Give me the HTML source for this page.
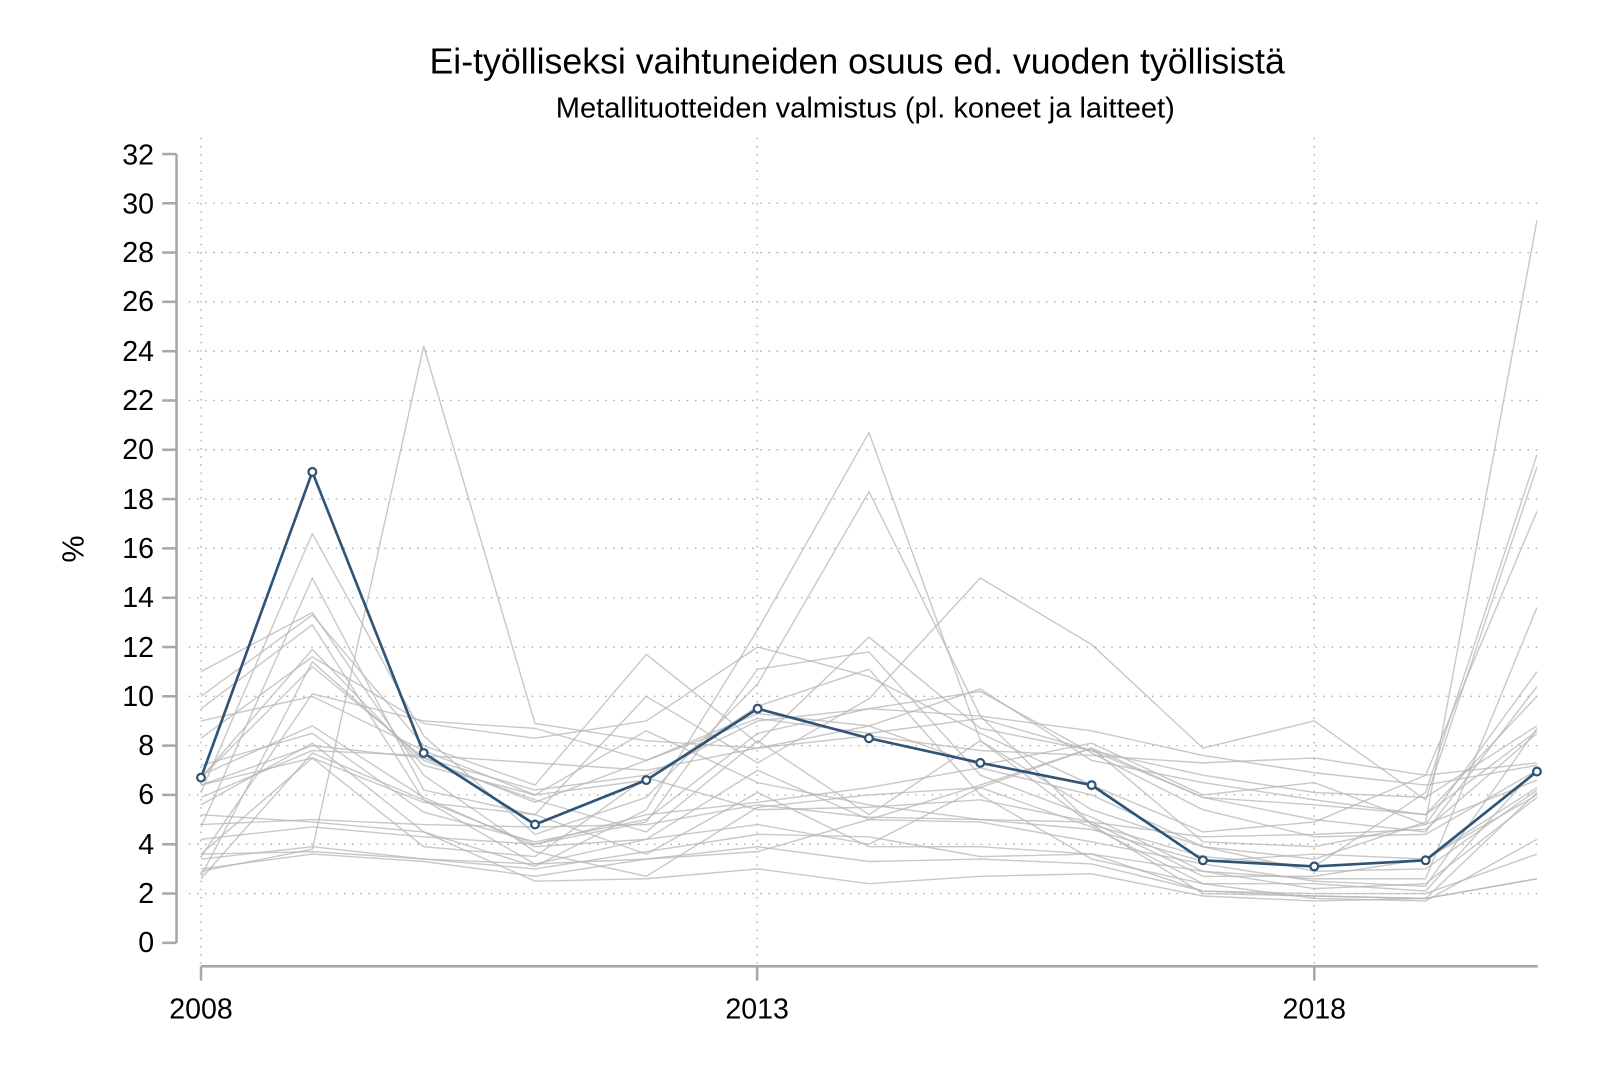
<!DOCTYPE html>
<html><head><meta charset="utf-8"><style>
html,body{margin:0;padding:0;background:#fff;}
svg{display:block;font-family:"Liberation Sans",Arial,sans-serif;}
</style></head><body>
<svg width="1600" height="1067" viewBox="0 0 1600 1067" xmlns="http://www.w3.org/2000/svg">
<rect width="1600" height="1067" fill="#fff"/>
<g transform="scale(1.0204)">
<text x="840" y="72" text-anchor="middle" font-size="35" fill="#000">Ei-työlliseksi vaihtuneiden osuus ed. vuoden työllisistä</text>
<text x="848" y="115" text-anchor="middle" font-size="28.5" fill="#000">Metallituotteiden valmistus (pl. koneet ja laitteet)</text>
<text transform="translate(82,538) rotate(-90)" text-anchor="middle" font-size="30" fill="#000">%</text>
<g stroke="#aaa" stroke-width="1.3" stroke-dasharray="1.5,6.5" fill="none">
<line x1="185" y1="199.2" x2="1510" y2="199.2"/><line x1="185" y1="247.5" x2="1510" y2="247.5"/>
<line x1="185" y1="295.8" x2="1510" y2="295.8"/><line x1="185" y1="344.2" x2="1510" y2="344.2"/>
<line x1="185" y1="392.5" x2="1510" y2="392.5"/><line x1="185" y1="440.8" x2="1510" y2="440.8"/>
<line x1="185" y1="489.1" x2="1510" y2="489.1"/><line x1="185" y1="537.4" x2="1510" y2="537.4"/>
<line x1="185" y1="585.8" x2="1510" y2="585.8"/><line x1="185" y1="634.1" x2="1510" y2="634.1"/>
<line x1="185" y1="682.4" x2="1510" y2="682.4"/><line x1="185" y1="730.7" x2="1510" y2="730.7"/>
<line x1="185" y1="779" x2="1510" y2="779"/><line x1="185" y1="827.4" x2="1510" y2="827.4"/>
<line x1="185" y1="875.7" x2="1510" y2="875.7"/>
<line x1="197" y1="135" x2="197" y2="947"/><line x1="742" y1="135" x2="742" y2="947"/><line x1="1288" y1="135" x2="1288" y2="947"/>
</g>
<g stroke="#a8a8a8" stroke-width="2.5" fill="none">
<line x1="173" y1="151" x2="173" y2="924"/>
<line x1="197" y1="947" x2="1507" y2="947"/>
</g>
<g stroke="#a8a8a8" stroke-width="2.5">
<line x1="159" y1="151" x2="173" y2="151"/><line x1="159" y1="199.2" x2="173" y2="199.2"/><line x1="159" y1="247.5" x2="173" y2="247.5"/><line x1="159" y1="295.8" x2="173" y2="295.8"/><line x1="159" y1="344.2" x2="173" y2="344.2"/><line x1="159" y1="392.5" x2="173" y2="392.5"/><line x1="159" y1="440.8" x2="173" y2="440.8"/><line x1="159" y1="489.1" x2="173" y2="489.1"/><line x1="159" y1="537.4" x2="173" y2="537.4"/><line x1="159" y1="585.8" x2="173" y2="585.8"/><line x1="159" y1="634.1" x2="173" y2="634.1"/><line x1="159" y1="682.4" x2="173" y2="682.4"/><line x1="159" y1="730.7" x2="173" y2="730.7"/><line x1="159" y1="779" x2="173" y2="779"/><line x1="159" y1="827.4" x2="173" y2="827.4"/><line x1="159" y1="875.7" x2="173" y2="875.7"/><line x1="159" y1="924" x2="173" y2="924"/>
<line x1="197" y1="947" x2="197" y2="961"/><line x1="742" y1="947" x2="742" y2="961"/><line x1="1288" y1="947" x2="1288" y2="961"/>
</g>
<g font-size="28" fill="#000" text-anchor="end">
<text x="151" y="161">32</text><text x="151" y="209">30</text><text x="151" y="257">28</text><text x="151" y="305">26</text><text x="151" y="354">24</text><text x="151" y="402">22</text><text x="151" y="450">20</text><text x="151" y="499">18</text><text x="151" y="547">16</text><text x="151" y="595">14</text><text x="151" y="692">10</text><text x="151" y="644">12</text><text x="151" y="740">8</text><text x="151" y="788">6</text><text x="151" y="837">4</text><text x="151" y="885">2</text><text x="151" y="933">0</text>
</g>
<g font-size="28" fill="#000" text-anchor="middle">
<text x="197" y="998">2008</text><text x="742" y="998">2013</text><text x="1288" y="998">2018</text>
</g>
<g transform="translate(197,924) scale(109.1,-24.16)" fill="none" stroke="#b5b5b5" stroke-opacity="0.75" stroke-width="1.4" stroke-linejoin="round">
<polyline vector-effect="non-scaling-stroke" points="0,3.6 1,3.7 2,3.4 3,3.2 4,3.4 5,3.9 6,3.3 7,3.4 8,3.2 9,2.1 10,1.9 11,1.8 12,2.6"/>
<polyline vector-effect="non-scaling-stroke" points="0,6.7 1,11.2 2,7.5 3,6.2 4,6.8 5,9.0 6,9.5 7,9.2 8,8.6 9,7.6 10,6.9 11,6.4 12,7.2"/>
<polyline vector-effect="non-scaling-stroke" points="0,10.0 1,13.3 2,8.0 3,6.4 4,11.7 5,8.1 6,12.4 7,8.7 8,7.8 9,5.9 10,5.6 11,5.2 12,8.6"/>
<polyline vector-effect="non-scaling-stroke" points="0,2.9 1,3.8 2,24.2 3,8.9 4,8.2 5,7.9 6,8.8 7,10.3 8,7.4 9,6.5 10,5.8 11,5.2 12,10.0"/>
<polyline vector-effect="non-scaling-stroke" points="0,5.6 1,8.1 2,4.5 3,3.1 4,5.4 5,12.7 6,20.7 7,8.2 8,5.4 9,3.9 10,3.4 11,4.9 12,29.3"/>
<polyline vector-effect="non-scaling-stroke" points="0,6.1 1,16.6 2,8.4 3,4.4 4,5.9 5,10.5 6,18.3 7,9.2 8,4.8 9,3.5 10,3.1 11,6.1 12,19.8"/>
<polyline vector-effect="non-scaling-stroke" points="0,4.7 1,14.8 2,6.2 3,5.2 4,10.0 5,7.3 6,9.9 7,14.8 8,12.1 9,7.9 10,9.0 11,5.8 12,19.3"/>
<polyline vector-effect="non-scaling-stroke" points="0,8.3 1,11.6 2,8.9 3,8.3 4,9.0 5,12.0 6,10.8 7,8.5 8,6.4 9,4.5 10,4.9 11,6.8 12,17.5"/>
<polyline vector-effect="non-scaling-stroke" points="0,9.5 1,12.9 2,5.8 3,4.0 4,4.9 5,11.1 6,11.8 7,6.8 8,5.1 9,2.9 10,2.6 11,2.6 12,13.6"/>
<polyline vector-effect="non-scaling-stroke" points="0,3.5 1,10.1 2,9.0 3,8.7 4,7.4 5,9.3 6,8.8 7,7.2 8,8.1 9,6.0 10,6.5 11,4.8 12,11.0"/>
<polyline vector-effect="non-scaling-stroke" points="0,6.8 1,8.8 2,5.9 3,3.9 4,4.2 5,7.0 6,5.0 7,6.4 8,7.9 9,5.9 10,5.0 11,4.5 12,10.4"/>
<polyline vector-effect="non-scaling-stroke" points="0,3.0 1,3.6 2,3.3 3,2.7 4,3.4 5,3.7 6,5.0 7,4.9 8,4.1 9,3.2 10,2.5 11,2.3 12,8.7"/>
<polyline vector-effect="non-scaling-stroke" points="0,4.8 1,5.0 2,4.8 3,4.7 4,4.8 5,5.6 6,5.1 7,5.0 8,4.9 9,4.3 10,4.4 11,4.6 12,8.5"/>
<polyline vector-effect="non-scaling-stroke" points="0,5.9 1,7.8 2,7.6 3,7.3 4,7.0 5,7.9 6,8.4 7,7.8 8,7.6 9,7.3 10,7.5 11,6.8 12,7.3"/>
<polyline vector-effect="non-scaling-stroke" points="0,2.7 1,11.4 2,7.4 3,5.8 4,4.5 5,8.2 6,5.2 7,8.2 8,4.8 9,2.0 10,1.9 11,1.8 12,6.1"/>
<polyline vector-effect="non-scaling-stroke" points="0,6.4 1,7.5 2,5.7 3,5.2 4,3.6 5,6.1 6,3.9 7,3.9 8,3.6 9,2.9 10,2.2 11,2.4 12,5.9"/>
<polyline vector-effect="non-scaling-stroke" points="0,11.0 1,13.4 2,6.8 3,3.7 4,2.7 5,5.5 6,6.0 7,6.3 8,4.7 9,2.4 10,1.8 11,1.7 12,4.2"/>
<polyline vector-effect="non-scaling-stroke" points="0,3.4 1,3.9 2,3.4 3,3.0 4,3.7 5,4.4 6,4.3 7,3.5 8,3.6 9,2.1 10,2.0 11,2.0 12,3.6"/>
<polyline vector-effect="non-scaling-stroke" points="0,7.2 1,8.5 2,5.3 3,4.1 4,5.0 5,8.5 6,9.5 7,10.2 8,7.7 9,5.4 10,4.3 11,4.4 12,7.0"/>
<polyline vector-effect="non-scaling-stroke" points="0,3.6 1,7.5 2,3.9 3,3.5 4,6.7 5,5.4 6,5.5 7,5.8 8,4.9 9,2.7 10,2.7 11,3.4 12,6.3"/>
<polyline vector-effect="non-scaling-stroke" points="0,6.7 1,11.9 2,7.2 3,6.0 4,6.6 5,9.6 6,11.1 7,6.0 8,3.4 9,2.4 10,2.4 11,2.1 12,7.1"/>
<polyline vector-effect="non-scaling-stroke" points="0,2.6 1,7.7 2,5.8 3,3.2 4,4.2 5,4.8 6,4.0 7,6.3 8,7.9 9,4.1 10,3.9 11,4.8 12,6.6"/>
<polyline vector-effect="non-scaling-stroke" points="0,9.0 1,10.0 2,7.8 3,6.0 4,8.6 5,6.5 6,5.6 7,5.0 8,4.6 9,3.3 10,3.6 11,3.4 12,6.0"/>
<polyline vector-effect="non-scaling-stroke" points="0,4.2 1,4.7 2,4.3 3,4.0 4,5.2 5,5.7 6,6.3 7,7.1 8,6.0 9,3.9 10,2.9 11,3.0 12,6.2"/>
<polyline vector-effect="non-scaling-stroke" points="0,6.4 1,8.0 2,7.5 3,5.7 4,7.4 5,9.1 6,8.5 7,9.1 8,7.8 9,6.8 10,6.1 11,5.9 12,8.8"/>
<polyline vector-effect="non-scaling-stroke" points="0,5.2 1,4.9 2,4.5 3,2.5 4,2.6 5,3.0 6,2.4 7,2.7 8,2.8 9,1.9 10,1.7 11,1.8 12,2.6"/>
</g>
<polyline fill="none" stroke="#2f5475" stroke-width="2.6" stroke-linejoin="round" points="197,762.1 306.1,462.5 415.2,737.9 524.3,808 633.4,764.5 742.5,694.5 851.6,723.5 960.7,747.6 1069.8,769.4 1178.9,843.1 1288,849.1 1397.1,843.1 1506.2,756.1"/>
<g fill="#fff" stroke="#2f5475" stroke-width="2.2">
<circle cx="197" cy="762.1" r="3.8"/><circle cx="306.1" cy="462.5" r="3.8"/><circle cx="415.2" cy="737.9" r="3.8"/><circle cx="524.3" cy="808" r="3.8"/><circle cx="633.4" cy="764.5" r="3.8"/><circle cx="742.5" cy="694.5" r="3.8"/><circle cx="851.6" cy="723.5" r="3.8"/><circle cx="960.7" cy="747.6" r="3.8"/><circle cx="1069.8" cy="769.4" r="3.8"/><circle cx="1178.9" cy="843.1" r="3.8"/><circle cx="1288" cy="849.1" r="3.8"/><circle cx="1397.1" cy="843.1" r="3.8"/><circle cx="1506.2" cy="756.1" r="3.8"/>
</g>
</g>
</svg>
</body></html>
